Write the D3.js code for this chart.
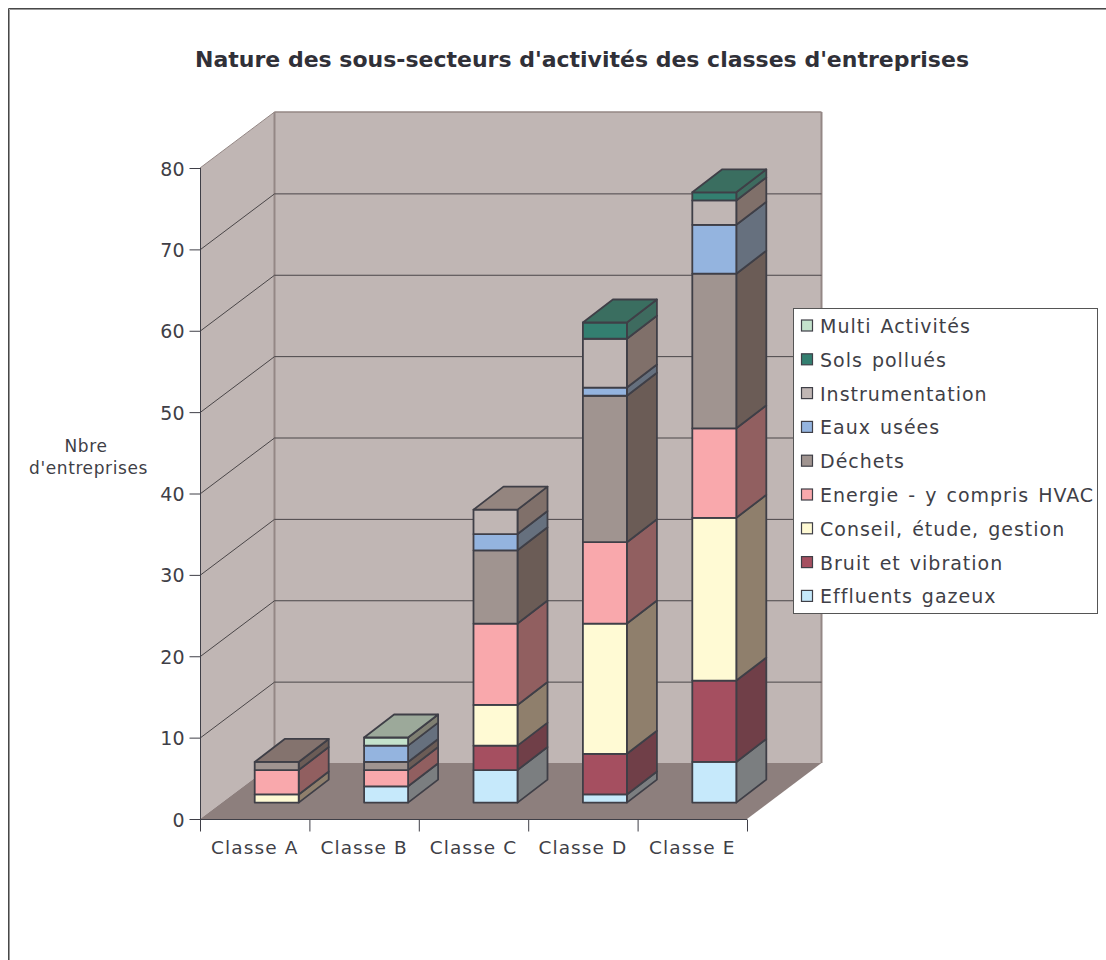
<!DOCTYPE html>
<html><head><meta charset="utf-8">
<script src="https://cdn.jsdelivr.net/npm/d3@7"></script>
<style>html,body{margin:0;padding:0;background:#fff}svg{display:block}text{font-family:"DejaVu Sans",Verdana,sans-serif}</style>
</head><body><svg id="c" width="1106" height="960"></svg>
<script>
const categories=["Classe A","Classe B","Classe C","Classe D","Classe E"];
const seriesNames=["Effluents gazeux","Bruit et vibration","Conseil, étude, gestion","Energie - y compris HVAC","Déchets","Eaux usées","Instrumentation","Sols pollués","Multi Activités"];
const effluents=[0,2,4,1,5];
const bruit=[0,0,3,5,10];
const conseil=[1,0,5,16,20];
const energie=[3,2,10,10,11];
const dechets=[1,1,9,18,19];
const eaux=[0,2,2,1,6];
const instrumentation=[0,0,3,6,3];
const sols=[0,0,0,2,1];
const multi=[0,1,0,0,0];
const seriesValues=[effluents,bruit,conseil,energie,dechets,eaux,instrumentation,sols,multi];
const seriesColors=["#c6e9fb","#a54f60","#fffad4","#f9a8ac","#a09490","#94b4df","#c0b6b4","#337f70","#c4e2cc"];
const sideColors=["#7b7e80","#703f48","#8f7f6c","#915f60","#6b5c56","#66707e","#80706a","#3e6b5f","#7f7f72"];
const topColors=["#8a9aa0","#85505a","#a59a80","#a87a7a","#84736e","#7a8a9c","#94857f","#3a6e60","#9ca99a"];
const yTicks=[0,10,20,30,40,50,60,70,80];
const title="Nature des sous-secteurs d'activités des classes d'entreprises";

const svg=d3.select("#c");
const ink="#3f3f47";
const wallDark="#948785";
const W={left:200,right:747,top:168,bottom:819,dx:74.5,dy:-56};
const y=d3.scaleLinear().domain([0,80]).range([W.bottom,W.top]);
const x=d3.scaleBand().domain(categories).range([W.left,W.right]);
const pts=a=>a.map(p=>p.join(",")).join(" ");
const poly=(g,a,fill,stroke,sw)=>g.append("polygon").attr("points",pts(a)).attr("fill",fill).attr("stroke",stroke||"none").attr("stroke-width",sw||0).attr("stroke-linejoin","round");

// page frame: top and left edges only
svg.append("path").attr("fill","none").attr("stroke","#999").attr("d","M9.5,960V9.5H1106");
svg.append("path").attr("fill","none").attr("stroke","#484848").attr("d","M8.5,960V8.5H1106");
svg.append("text").attr("x",582).attr("y",67).attr("text-anchor","middle").attr("font-weight","bold").attr("font-size",22).attr("fill","#303038").text(title);

const g=svg.append("g");
poly(g,[[W.left,W.top],[W.left+W.dx,W.top+W.dy],[W.left+W.dx,W.bottom+W.dy],[W.left,W.bottom]],"#c0b6b4");
poly(g,[[W.left+W.dx,W.top+W.dy],[W.right+W.dx,W.top+W.dy],[W.right+W.dx,W.bottom+W.dy],[W.left+W.dx,W.bottom+W.dy]],"#c0b6b4");
poly(g,[[W.left,W.bottom],[W.left+W.dx,W.bottom+W.dy],[W.right+W.dx,W.bottom+W.dy],[W.right,W.bottom]],"#8d7f7d");
g.append("line").attr("x1",W.left+W.dx).attr("x2",W.right+W.dx).attr("y1",W.top+W.dy).attr("y2",W.top+W.dy).attr("stroke",wallDark).attr("stroke-width",1.5);
g.append("line").attr("x1",W.left+W.dx).attr("x2",W.left+W.dx).attr("y1",W.top+W.dy).attr("y2",W.bottom+W.dy).attr("stroke",wallDark).attr("stroke-width",2);
g.append("line").attr("x1",W.right+W.dx).attr("x2",W.right+W.dx).attr("y1",W.top+W.dy).attr("y2",W.bottom+W.dy).attr("stroke",wallDark).attr("stroke-width",2);
g.append("line").attr("x1",W.left).attr("x2",W.left+W.dx).attr("y1",W.top).attr("y2",W.top+W.dy).attr("stroke",wallDark);
yTicks.slice(1,-1).forEach(t=>{
  g.append("path").attr("fill","none").attr("stroke","#4a4648").attr("stroke-width",1)
   .attr("d",`M${W.left},${y(t)+.5}L${W.left+W.dx},${y(t)+W.dy+.5}L${W.right+W.dx},${y(t)+W.dy+.5}`);
});
const axY=svg.append("g").attr("transform",`translate(${W.left+.5},0)`).call(d3.axisLeft(y).tickValues(yTicks).tickSize(11).tickPadding(5));
axY.select(".domain").attr("stroke",ink).attr("d",`M0,${W.top}V${W.bottom}`);
axY.selectAll("line").attr("stroke",ink);
axY.selectAll("text").attr("font-size",19).attr("fill",ink).attr("transform","translate(0,1)");
axY.attr("font-family",null);

g.append("line").attr("x1",W.left).attr("x2",W.right).attr("y1",W.bottom+.5).attr("y2",W.bottom+.5).attr("stroke",ink);
const ax=svg.append("g").attr("transform",`translate(0,${W.bottom+.5})`);
const tickXs=categories.map(c=>x(c)).concat([W.right]);
ax.selectAll("line").data(tickXs).join("line").attr("x1",d=>d+.5).attr("x2",d=>d+.5).attr("y1",0).attr("y2",12).attr("stroke",ink);
ax.selectAll("text").data(categories).join("text").attr("x",d=>x(d)+x.bandwidth()/2).attr("y",34).attr("text-anchor","middle").attr("font-size",18.5).attr("letter-spacing",1.1).attr("fill",ink).text(d=>d);

const yt=svg.append("text").attr("text-anchor","middle").attr("font-size",17).attr("letter-spacing",.6).attr("fill",ink);
yt.append("tspan").attr("x",86).attr("y",452).text("Nbre");
yt.append("tspan").attr("x",88.5).attr("y",474).text("d'entreprises");

const off={dx:22,dy:-16.4}, depth={dx:30,dy:-23};
const barPad=33, barW=44;
const stack=d3.stack().keys(seriesNames.map((_,i)=>i)).value((row,k)=>row[k])(categories.map((_,c)=>seriesValues.map(s=>s[c])));
const bars=svg.append("g");
categories.forEach((cat,c)=>{
  const x0=x(cat)+off.dx+barPad-.3, x1=x0+barW;
  let topI=-1;
  seriesNames.forEach((_,i)=>{
    const v=seriesValues[i][c]; if(!v) return;
    topI=i;
    const yb=y(stack[i][c][0])+off.dy, yt=y(stack[i][c][1])+off.dy;
    poly(bars,[[x1,yb],[x1+depth.dx,yb+depth.dy],[x1+depth.dx,yt+depth.dy],[x1,yt]],sideColors[i],ink,1.8);
    poly(bars,[[x0,yb],[x1,yb],[x1,yt],[x0,yt]],seriesColors[i],ink,1.8);
  });
  const yt=y(stack[topI][c][1])+off.dy;
  poly(bars,[[x0,yt],[x1,yt],[x1+depth.dx,yt+depth.dy],[x0+depth.dx,yt+depth.dy]],topColors[topI],ink,1.8);
});

const lg=svg.append("g");
lg.append("rect").attr("x",793.5).attr("y",308.5).attr("width",304).attr("height",305).attr("fill","#fff").attr("stroke","#555");
seriesNames.slice().reverse().forEach((n,i)=>{
  const idx=seriesNames.length-1-i, yy=326+i*33.8;
  lg.append("rect").attr("x",801.5).attr("y",yy-6).attr("width",11).attr("height",11).attr("fill",seriesColors[idx]).attr("stroke",ink).attr("stroke-width",1.2);
  lg.append("text").attr("x",820).attr("y",yy+7).attr("font-size",19).attr("letter-spacing",1).attr("word-spacing",2).attr("fill",ink).text(n);
});
</script></body></html>
